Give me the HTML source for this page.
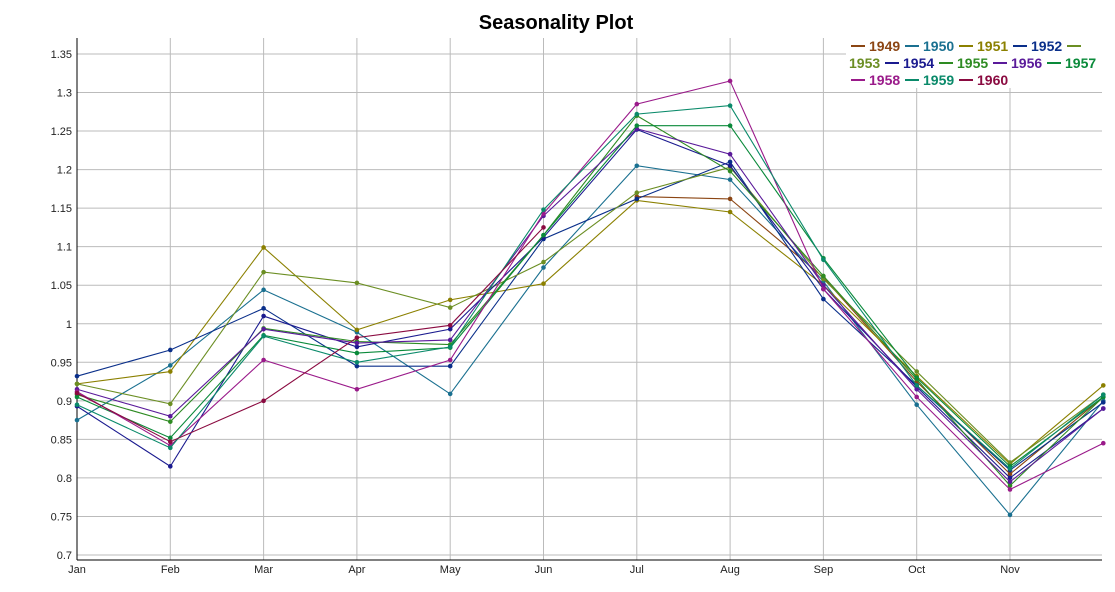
<!DOCTYPE html>
<html><head><meta charset="utf-8"><style>
body{margin:0;background:#fff;font-family:"Liberation Sans",sans-serif}
</style></head><body>
<svg id="c" width="1115" height="587" xmlns="http://www.w3.org/2000/svg">
<text x="556" y="29" text-anchor="middle" font-size="20" font-weight="bold" fill="#000">Seasonality Plot</text>
<g id="grid"></g><g id="axes"></g><g id="series"></g><g id="legend"></g>
</svg>
<script>
const months=["Jan","Feb","Mar","Apr","May","Jun","Jul","Aug","Sep","Oct","Nov","Dec"];
const yTicks=[0.7,0.75,0.8,0.85,0.9,0.95,1,1.05,1.1,1.15,1.2,1.25,1.3,1.35];
const years=["1949","1950","1951","1952","1953","1954","1955","1956","1957","1958","1959","1960"];
const colors=["#8b4513","#1a7090","#8b8000","#0a2f8a","#6b8e23","#1a1a8f","#2e8b22","#5a1a9a","#0a8a3a","#9a1a8a","#0a8a6a","#8a0a40"];
const s1949=[null,null,null,null,null,null,1.165,1.162,1.06,0.925,0.805,0.905];
const s1950=[0.875,0.946,1.044,0.989,0.909,1.073,1.205,1.187,1.055,0.895,0.752,0.9];
const s1951=[0.922,0.938,1.099,0.992,1.031,1.052,1.16,1.145,1.05,0.932,0.818,0.92];
const s1952=[0.932,0.966,1.02,0.945,0.945,1.11,1.162,1.21,1.032,0.92,0.81,0.898];
const s1953=[0.922,0.896,1.067,1.053,1.021,1.08,1.17,1.203,1.058,0.938,0.82,0.908];
const s1954=[0.893,0.815,1.01,0.97,0.993,1.112,1.252,1.205,1.045,0.918,0.8,0.89];
const s1955=[0.908,0.873,0.994,0.977,0.973,1.115,1.27,1.198,1.062,0.928,0.79,0.905];
const s1956=[0.915,0.88,0.993,0.975,0.979,1.14,1.253,1.22,1.05,0.915,0.795,0.89];
const s1957=[0.905,0.852,0.985,0.962,0.969,1.115,1.257,1.257,1.085,0.93,0.815,0.905];
const s1958=[0.912,0.842,0.953,0.915,0.953,1.143,1.285,1.315,1.045,0.905,0.785,0.845];
const s1959=[0.895,0.839,0.984,0.95,0.97,1.148,1.272,1.283,1.083,0.92,0.812,0.908];
const s1960=[0.91,0.847,0.90,0.982,0.998,1.125,null,null,null,null,null,null];
const seriesData=[s1949,s1950,s1951,s1952,s1953,s1954,s1955,s1956,s1957,s1958,s1959,s1960];
const NS="http://www.w3.org/2000/svg";
const L=77,R=1102,T=38,B=560;
const x=i=>L+i*93.3;
const y=v=>555-(v-0.7)*770.8;
function mk(t,a,p){const e=document.createElementNS(NS,t);for(const k in a)e.setAttribute(k,a[k]);p.appendChild(e);return e;}
const grid=document.getElementById('grid'),axes=document.getElementById('axes'),ser=document.getElementById('series'),leg=document.getElementById('legend');
yTicks.forEach(v=>{
 const g=mk('line',{x1:L,x2:R,y1:y(v),y2:y(v),stroke:'#bbb','stroke-width':1},grid);
 
 
 const t=mk('text',{x:72,y:y(v)+4,'text-anchor':'end','font-size':11,fill:'#222'},axes);
 t.textContent=String(v);
 
 
});
months.forEach((m,i)=>{
 if(x(i)>R)return;
 const g=mk('line',{x1:x(i),x2:x(i),y1:T,y2:B,stroke:'#bbb','stroke-width':1},grid);
 
 
 const t=mk('text',{x:x(i),y:573,'text-anchor':'middle','font-size':11,fill:'#222'},axes);
 t.textContent=m;
 
 
});
const ax=mk('line',{x1:L,x2:L,y1:T,y2:B,stroke:'#000','stroke-width':1},axes);


const bx=mk('line',{x1:L,x2:R,y1:B,y2:B,stroke:'#000','stroke-width':1},axes);


seriesData.forEach((d,si)=>{
 const g=mk('g',{},ser);
 
 
 let pts=[];
 d.forEach((v,i)=>{if(v!=null)pts.push(x(i)+','+y(v));});
 const pl=mk('polyline',{points:pts.join(' '),fill:'none',stroke:colors[si],'stroke-width':1.1},g);
 
 
 d.forEach((v,i)=>{if(v==null)return;
  const c=mk('circle',{cx:x(i),cy:y(v),r:2.3,fill:colors[si]},g);
  
  
 });
});
const bg=mk('rect',{x:846,y:36,width:256,height:52,fill:'#fff'},leg);


let cx=851,cy=46,lineH=17,maxX=1100;
years.forEach((yr,i)=>{
 const g=mk('g',{},leg);
 
 
 if(cx+14>maxX){cx=851;cy+=lineH;}
 mk('line',{x1:cx,x2:cx+14,y1:cy,y2:cy,stroke:colors[i],'stroke-width':2},g);
 cx+=18;
 if(cx+31>maxX){cx=849;cy+=lineH;}
 const t=mk('text',{x:cx,y:cy+5,'font-size':14,'font-weight':'bold',fill:colors[i]},g);
 t.textContent=yr;
 cx+=36;
});
</script>
</body></html>
